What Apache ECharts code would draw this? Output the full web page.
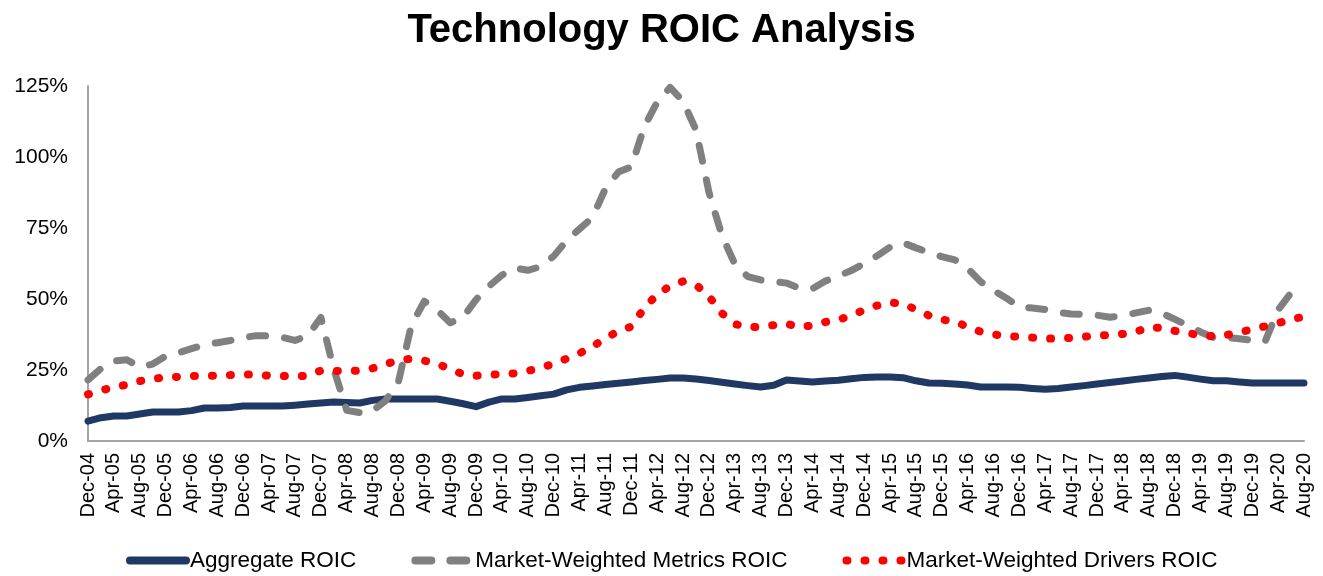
<!DOCTYPE html>
<html>
<head>
<meta charset="utf-8">
<script src="https://cdn.jsdelivr.net/npm/echarts@6/dist/echarts.min.js"></script>
<style>
  html, body { margin: 0; padding: 0; background: #fff; }
  #chart { width: 1323px; height: 576px; }
</style>
</head>
<body>
<div id="chart"></div>
<script>
// Bi-monthly observation dates (every second one is labelled on the axis)
const months = [
  "Dec-04",
  "Feb-05","Apr-05","Jun-05","Aug-05","Oct-05","Dec-05",
  "Feb-06","Apr-06","Jun-06","Aug-06","Oct-06","Dec-06",
  "Feb-07","Apr-07","Jun-07","Aug-07","Oct-07","Dec-07",
  "Feb-08","Apr-08","Jun-08","Aug-08","Oct-08","Dec-08",
  "Feb-09","Apr-09","Jun-09","Aug-09","Oct-09","Dec-09",
  "Feb-10","Apr-10","Jun-10","Aug-10","Oct-10","Dec-10",
  "Feb-11","Apr-11","Jun-11","Aug-11","Oct-11","Dec-11",
  "Feb-12","Apr-12","Jun-12","Aug-12","Oct-12","Dec-12",
  "Feb-13","Apr-13","Jun-13","Aug-13","Oct-13","Dec-13",
  "Feb-14","Apr-14","Jun-14","Aug-14","Oct-14","Dec-14",
  "Feb-15","Apr-15","Jun-15","Aug-15","Oct-15","Dec-15",
  "Feb-16","Apr-16","Jun-16","Aug-16","Oct-16","Dec-16",
  "Feb-17","Apr-17","Jun-17","Aug-17","Oct-17","Dec-17",
  "Feb-18","Apr-18","Jun-18","Aug-18","Oct-18","Dec-18",
  "Feb-19","Apr-19","Jun-19","Aug-19","Oct-19","Dec-19",
  "Feb-20","Apr-20","Jun-20","Aug-20"
];

// ROIC, in percent
const aggregateROIC = [
  7.0, 8.2, 8.8, 8.8, 9.5, 10.2,
  10.2, 10.2, 10.7, 11.6, 11.6, 11.8,
  12.3, 12.3, 12.3, 12.3, 12.6, 13.0,
  13.4, 13.7, 13.6, 13.4, 14.3, 14.8,
  14.8, 14.8, 14.8, 14.8, 14.0, 13.1,
  12.1, 13.7, 14.8, 14.8, 15.3, 15.9,
  16.5, 18.0, 18.9, 19.4, 19.9, 20.3,
  20.8, 21.3, 21.7, 22.2, 22.2, 21.8,
  21.3, 20.7, 20.1, 19.5, 19.0, 19.6,
  21.5, 21.1, 20.8, 21.1, 21.4, 21.9,
  22.4, 22.5, 22.5, 22.3, 21.2, 20.4,
  20.3, 20.1, 19.7, 19.0, 19.0, 19.0,
  18.9, 18.5, 18.2, 18.5, 19.0, 19.5,
  20.1, 20.6, 21.1, 21.7, 22.2, 22.7,
  23.1, 22.5, 21.8, 21.2, 21.2, 20.8,
  20.4, 20.4, 20.4, 20.4, 20.4
];

const metricsROIC = [
  21.5, 25.5, 28.2, 28.6, 26.0, 27.1,
  29.9, 31.1, 32.5, 33.9, 34.6, 35.4,
  36.4, 37.1, 37.0, 36.5, 35.4, 37.1,
  43.5, 25.3, 10.8, 10.0, 10.6, 14.2,
  20.9, 40.8, 49.2, 46.1, 41.6, 43.6,
  49.8, 54.5, 58.4, 60.9, 60.1, 61.4,
  65.1, 70.6, 74.7, 78.7, 88.9, 94.7,
  96.5, 110.7, 119.3, 124.5, 119.6, 109.5,
  87.6, 72.4, 62.3, 57.9, 56.7, 56.2,
  55.6, 53.8, 53.6, 56.3, 58.1, 60.0,
  62.5, 65.2, 68.3, 69.8, 68.0, 66.4,
  64.9, 63.8, 60.8, 56.1, 53.0, 50.3,
  47.2, 46.8, 46.3, 45.3, 44.7, 44.6,
  44.3, 43.6, 44.1, 45.1, 46.0, 45.0,
  42.9, 40.7, 38.4, 36.4, 36.5, 36.0,
  35.5, 35.1, 46.2, 52.2, 49.5
];

const driversROIC = [
  16.4, 17.8, 19.0, 19.8, 21.1, 21.9,
  22.4, 22.6, 22.9, 23.0, 23.0, 23.2,
  23.4, 23.4, 23.0, 22.9, 22.7, 23.0,
  24.8, 24.7, 24.6, 24.8, 25.6, 27.1,
  28.4, 29.0, 28.3, 27.2, 25.3, 23.5,
  23.0, 23.3, 23.6, 23.8, 24.7, 25.8,
  27.2, 29.0, 30.9, 33.2, 36.3, 38.6,
  40.3, 46.8, 51.6, 54.6, 56.2, 55.0,
  50.9, 45.0, 41.2, 40.0, 40.2, 40.8,
  41.3, 40.1, 40.7, 41.9, 42.6, 44.3,
  46.1, 47.7, 48.8, 48.3, 46.3, 44.2,
  42.7, 42.2, 40.1, 38.5, 37.5, 37.0,
  36.7, 36.4, 36.1, 36.0, 36.3, 36.7,
  37.1, 37.3, 37.7, 38.4, 40.1, 39.8,
  38.8, 38.0, 37.2, 36.9, 37.3, 38.3,
  39.3, 40.4, 41.5, 42.8, 43.8
];

const seriesNames = [
  "Aggregate ROIC",
  "Market-Weighted Metrics ROIC",
  "Market-Weighted Drivers ROIC"
];

const chart = echarts.init(document.getElementById("chart"), null, { renderer: "canvas" });

chart.setOption({
  animation: false,
  backgroundColor: "#ffffff",
  title: {
    text: "Technology ROIC Analysis",
    left: "center",
    top: 6,
    textStyle: {
      fontFamily: "Liberation Sans, Arial, sans-serif",
      fontSize: 40,
      fontWeight: "bold",
      color: "#000000"
    }
  },
  grid: { left: 88, right: 19, top: 86, bottom: 135, containLabel: false },
  legend: {
    data: seriesNames,
    top: 544,
    left: 121,
    itemWidth: 56,
    itemHeight: 16,
    itemGap: 55,
    // line-only keys: hide the marker dot drawn in the middle of each key
    itemStyle: { opacity: 0 },
    lineStyle: { width: 8, opacity: 1 },
    textStyle: {
      fontFamily: "Liberation Sans, Arial, sans-serif",
      fontSize: 22.5,
      color: "#000000",
      padding: [0, 0, 0, -1]
    }
  },
  xAxis: {
    type: "category",
    data: months,
    boundaryGap: false,
    axisLine: { lineStyle: { color: "#A6A6A6", width: 2 } },
    axisTick: { show: false },
    axisLabel: {
      interval: 1,
      rotate: 90,
      margin: 12,
      fontFamily: "Liberation Sans, Arial, sans-serif",
      fontSize: 20,
      color: "#000000"
    },
    splitLine: { show: false }
  },
  yAxis: {
    type: "value",
    min: 0,
    max: 125,
    interval: 25,
    axisLine: { show: true, lineStyle: { color: "#A6A6A6", width: 2 } },
    axisTick: { show: false },
    splitLine: { show: false },
    axisLabel: {
      formatter: "{value}%",
      margin: 20,
      fontFamily: "Liberation Sans, Arial, sans-serif",
      fontSize: 21,
      color: "#000000"
    }
  },
  series: [
    {
      name: seriesNames[0],
      type: "line",
      data: aggregateROIC,
      symbol: "none",
      clip: false,
      lineStyle: { color: "#1F3864", width: 7, cap: "round", join: "round" },
      itemStyle: { color: "#1F3864" },
      z: 2
    },
    {
      name: seriesNames[1],
      type: "line",
      data: metricsROIC,
      symbol: "none",
      clip: false,
      lineStyle: { color: "#808080", width: 7, type: [16, 19], cap: "round", join: "round" },
      itemStyle: { color: "#808080" },
      z: 3
    },
    {
      name: seriesNames[2],
      type: "line",
      data: driversROIC,
      symbol: "none",
      clip: false,
      lineStyle: { color: "#FF0000", width: 8, type: [1, 17], cap: "round", join: "round" },
      itemStyle: { color: "#FF0000" },
      z: 4
    }
  ]
});
</script>
</body>
</html>
